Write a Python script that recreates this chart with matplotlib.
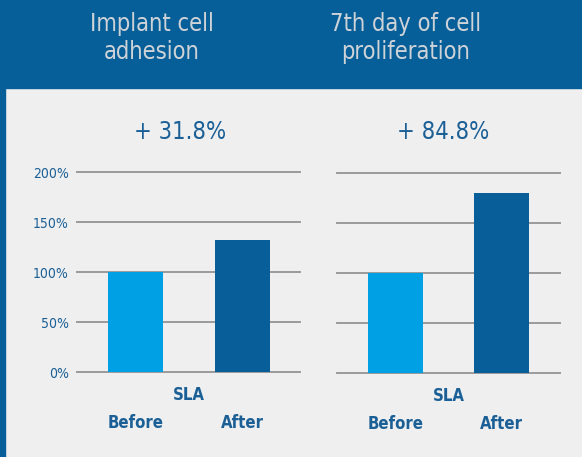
import matplotlib.pyplot as plt
from matplotlib.patches import Rectangle

# values
categories = ["Before", "After"]
adhesion = [100, 131.8]
proliferation = [100, 180]
yticks = [0, 50, 100, 150, 200]
ytick_labels = ["0%", "50%", "100%", "150%", "200%"]
titles = ["Implant cell\nadhesion", "7th day of cell\nproliferation"]
gains = ["+ 31.8%", "+ 84.8%"]

W, H = 582, 457
header_blue = "#075f99"
light_blue = "#00a0e4"
dark_blue = "#075e98"
text_blue = "#1a5f96"
bg = "#efefef"
font = dict(family="DejaVu Sans", fontstretch="condensed")

fig = plt.figure(figsize=(W / 100, H / 100), dpi=100)
fig.patch.set_facecolor(bg)

# header band and left strip
fig.patches.append(Rectangle((0, 1 - 88 / H), 1, 88 / H, transform=fig.transFigure,
                             color=header_blue, zorder=0))
fig.patches.append(Rectangle((0, 0), 5 / W, 1, transform=fig.transFigure,
                             color=header_blue, zorder=0))


def px_axes(x0, x1, ytop, ybot):
    return fig.add_axes([x0 / W, 1 - ybot / H, (x1 - x0) / W, (ybot - ytop) / H])


panels = [
    (adhesion, 77, 300, 172, 372, 135.5, 107, 152, 180, True),
    (proliferation, 337, 560, 173, 373, 395.5, 106, 406, 443, False),
]

for i, (vals, x0, x1, yt, yb, c0, step, tx, gx, show_y) in enumerate(panels):
    ax = px_axes(x0, x1, yt, yb)
    ax.set_facecolor("none")
    ax.bar([0, 1], vals, width=55 / step, color=[light_blue, dark_blue], zorder=2)
    for y in yticks:
        ax.axhline(y, color="#9a9a9a", lw=1.4, zorder=1, clip_on=False)
    ax.set_ylim(0, 200)
    left = (c0 - x0) / step
    ax.set_xlim(-left, -left + (x1 - x0) / step)
    for s in ax.spines.values():
        s.set_visible(False)
    ax.set_xticks([])
    ax.set_yticks(yticks)
    ax.tick_params(axis="y", length=0, pad=6)
    if show_y:
        ax.set_yticklabels(ytick_labels, color=text_blue, fontsize=10, **font)
    else:
        ax.set_yticklabels([])
    ax.text(0.5, -0.115, "SLA", transform=ax.transAxes, ha="center", va="center",
            color=text_blue, fontsize=12, fontweight="bold", **font)
    for j, cat in enumerate(categories):
        ax.text(j, -0.255, cat, transform=ax.get_xaxis_transform(), ha="center",
                va="center", color=text_blue, fontsize=12, fontweight="bold", **font)

    fig.text(gx / W, 1 - 132 / H, gains[i], ha="center", va="center",
             color=text_blue, fontsize=17, **font)
    fig.text(tx / W, 1 - 38 / H, titles[i], ha="center", va="center",
             color="#cfd3d8", fontsize=17, linespacing=1.2, **font)

fig.savefig("out.png", dpi=100, facecolor=bg)
